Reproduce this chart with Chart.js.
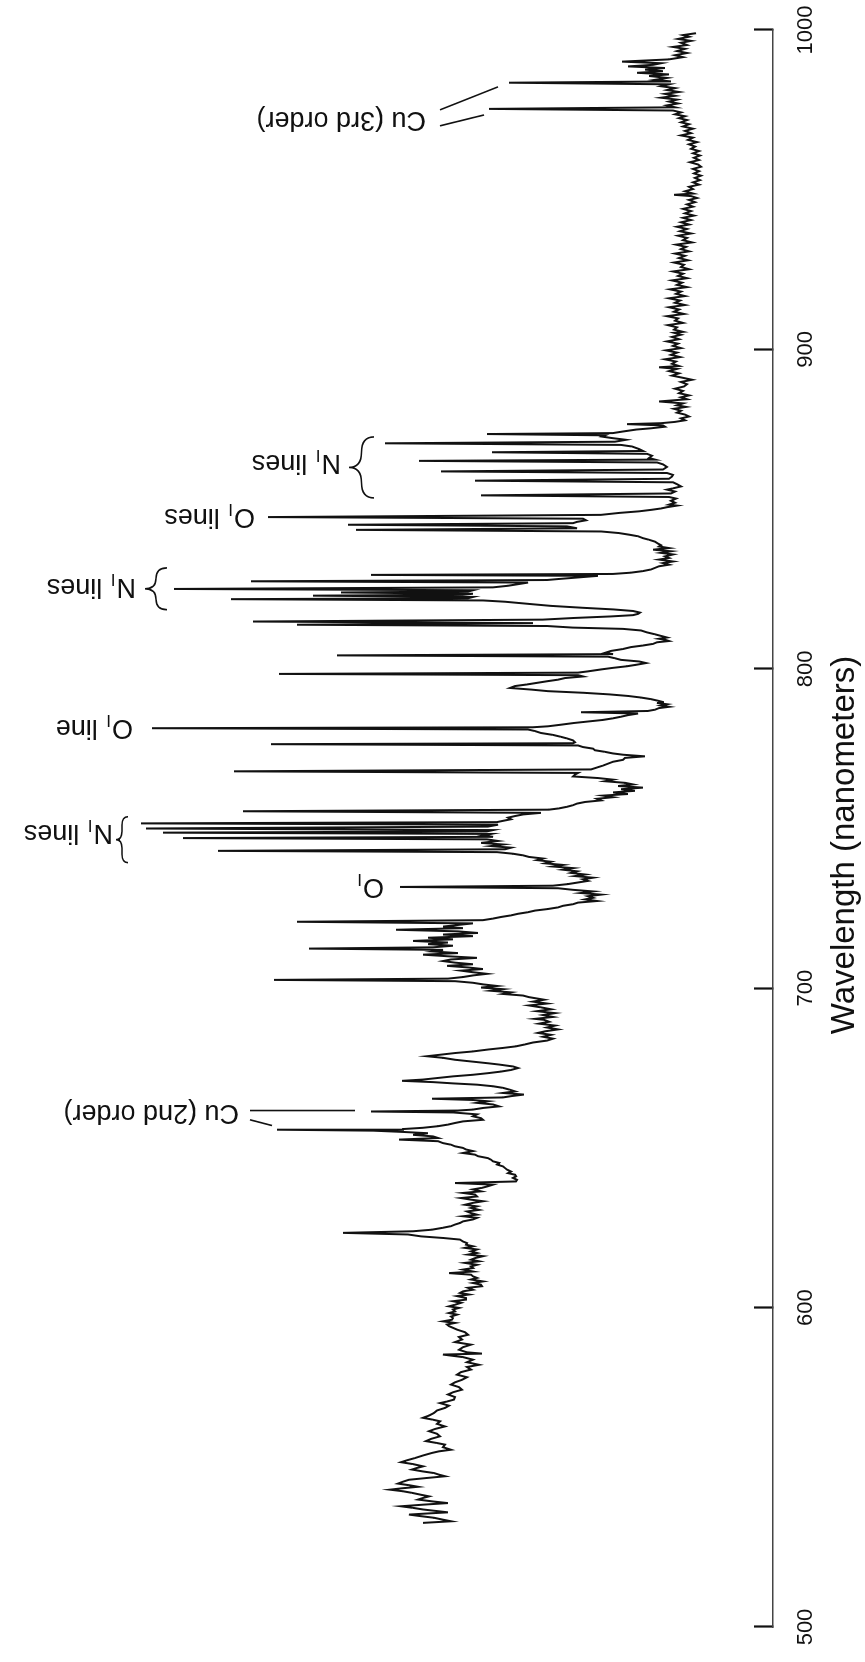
<!DOCTYPE html>
<html>
<head>
<meta charset="utf-8">
<title>Spectrum</title>
<script src="https://cdn.jsdelivr.net/npm/chart.js@4.4.1/dist/chart.umd.min.js"></script>
<style>
  html, body { margin: 0; padding: 0; background: #fff; overflow: hidden; }
  #wrap {
    position: absolute; left: 0; top: 0;
    width: 1662px; height: 865px;
    transform-origin: 0 0;
    transform: translate(0, 1662px) rotate(-90deg); /* figure is printed on its side */
  }
</style>
</head>
<body>
<div id="wrap"><canvas id="grafico" width="1662" height="865"></canvas></div>
<script>
// wavelength (nm), intensity (arbitrary) pairs from top to bottom
const seg1000a940 = [
  [999.0,77],[998.4,90],[997.9,84],[997.2,95],[996.6,82],[996.0,92],[995.3,86],[994.7,100],[994.1,88],[993.4,96],
  [992.8,86],[992.1,98],[991.5,90],[990.8,104],[990.1,151],[989.6,112],[989.1,120],[988.6,145],[988.1,108],[987.6,128],
  [987.1,110],[986.6,136],[986.1,104],[985.6,124],[985.0,106],[984.4,118],[983.9,102],[983.5,264],[983.0,104],[982.4,112],
  [981.8,98],[981.2,106],[980.6,94],[980.0,108],[979.4,98],[978.8,112],[978.2,96],[977.6,104],[977.0,95],[976.4,106],
  [975.8,98],[975.3,284],[974.8,100],[974.2,92],[973.6,98],[973.0,88],[972.4,94],[971.8,86],[971.1,92],[970.5,84],
  [969.8,90],[969.1,80],[968.4,88],[967.7,82],[967.0,92],[966.3,80],[965.6,85],[964.9,76],[964.2,84],[963.5,78],
  [962.8,82],[962.1,74],[961.4,80],[960.7,73],[960.0,79],[959.3,74],[958.6,83],[957.9,75],[957.2,72],[956.5,80],
  [955.8,74],[955.1,79],[954.4,72],[953.7,78],[953.0,73],[952.3,80],[951.6,74],[950.9,84],[950.2,80],[949.5,88],
  [948.8,80],[948.4,99],[948.0,82],[947.4,76],[946.8,84],[946.1,78],[945.4,86],[944.7,80],[944.0,90],[943.3,82],
  [942.6,88],[941.9,79],[941.2,90],[940.5,82]
];
const seg940a890 = [
  [939.8,92],[939.1,84],[938.4,96],[937.7,86],[937.0,93],[936.3,82],[935.6,95],[934.9,86],[934.2,90],[933.5,81],
  [932.8,97],[932.1,87],[931.4,92],[930.7,84],[930.0,98],[929.3,88],[928.6,94],[927.9,85],[927.2,99],[926.5,89],
  [925.8,92],[925.1,84],[924.4,100],[923.7,90],[923.0,95],[922.3,86],[921.6,101],[920.9,91],[920.2,96],[919.5,86],
  [918.8,103],[918.1,92],[917.4,97],[916.7,88],[916.0,104],[915.3,93],[914.6,98],[913.9,88],[913.2,104],[912.5,94],
  [911.8,99],[911.1,89],[910.4,106],[909.7,95],[909.0,98],[908.3,90],[907.6,105],[906.9,96],[906.2,99],[905.5,90],
  [905.2,99],[904.6,92],[903.9,101],[903.2,94],[902.5,106],[901.8,95],[901.1,100],[900.4,92],[899.7,107],[899.0,96],
  [898.3,102],[897.6,93],[896.9,108],[896.2,97],[895.5,101],[894.8,94],[894.4,114],[893.9,96],[893.2,104],[892.5,94],
  [891.8,101],[891.1,90]
];
const seg890a830 = [
  [890.5,81],[889.8,92],[889.1,86],[888.4,89],[887.7,98],[887.0,90],[886.3,94],[885.6,84],[885.0,92],[884.4,86],
  [883.7,114],[883.1,90],[882.5,96],[882.0,87],[881.4,99],[880.8,92],[880.2,96],[879.6,88],[879.0,84],[878.4,92],
  [877.8,88],[877.3,98],[876.9,112],[876.6,146],[876.2,110],[875.8,108],[875.3,122],[874.9,137],[874.3,150],[873.8,160],
  [873.5,286],[873.1,168],[872.7,171],[872.2,160],[871.7,147],[871.1,158],[870.6,388],[870.1,152],[869.6,141],[868.8,134],
  [868.2,130],[867.8,281],[867.3,126],[866.7,121],[866.0,124],[865.5,118],[865.1,354],[864.6,116],[864.0,110],[863.2,106],
  [862.4,110],[861.8,332],[861.3,106],[860.7,100],[860.2,101],[859.5,104],[858.9,298],[858.4,100],[857.8,96],[857.1,92],
  [856.5,100],[856.1,106],[855.5,98],[854.9,102],[854.3,292],[853.8,104],[853.3,97],[852.6,102],[852.0,98],[851.4,104],
  [851.1,96],[850.6,106],[850.2,112],[849.8,121],[849.3,134],[848.8,154],[848.2,172],[847.5,505],[847.0,190],[846.5,187],
  [846.0,196],[845.6,200],[845.1,425],[844.6,206],[844.0,196],[843.5,417],[843.0,172],[842.5,154],[842.0,144],[841.5,135],
  [840.9,130],[840.4,124],[839.8,118],[839.2,115],[838.7,112],[838.3,114],[837.8,104],[837.3,120],[836.8,102],[836.3,112],
  [835.8,100],[835.2,108],[834.7,104],[834.2,114],[833.6,100],[833.1,110],[832.6,104],[832.1,114],[831.6,118],[831.1,122],
  [830.6,130],[830.1,142],[829.7,160]
];
const seg830a784 = [
  [829.4,402],[829.1,175],[828.6,195],[828.1,215],[827.8,226],[827.4,522],[827.0,245],[826.5,255],[826.0,265],[825.5,280],
  [825.0,599],[824.6,300],[824.2,305],[823.9,432],[823.5,300],[823.2,310],[822.9,460],[822.5,300],[822.1,305],[821.8,542],
  [821.4,290],[821.0,268],[820.6,254],[820.2,240],[819.7,222],[819.1,190],[818.6,160],[818.1,140],[817.6,133],[817.2,135],
  [816.8,140],[816.4,162],[815.9,200],[815.4,230],[814.8,520],[814.3,240],[813.8,476],[813.4,226],[812.9,200],[812.5,150],
  [812.0,132],[811.4,126],[810.8,118],[810.3,112],[809.8,106],[809.4,114],[809.1,108],[808.7,104],[808.3,116],[807.8,120],
  [807.3,130],[806.8,142],[806.2,150],[805.6,162],[805.0,168],[804.6,160],[804.2,436],[803.8,165],[803.3,158],[802.8,152],
  [802.3,134],[801.8,127],[801.3,136],[800.8,146],[800.3,160],[799.8,172],[799.2,185],[798.8,195],[798.4,494],[798.0,195],
  [797.6,190],[797.1,208],[796.6,215],[796.1,226],[795.6,236],[795.1,246],[794.6,258],[794.0,263],[793.5,242],[793.0,225],
  [792.5,190],[792.0,164],[791.5,145],[791.0,132],[790.5,122],[790.0,115],[789.6,110],[789.3,116],[788.9,106],[788.5,112],
  [788.1,104],[787.7,114],[787.2,118],[786.8,125],[786.4,192],[786.0,135],[785.5,145],[785.0,152],[784.5,160]
];
const seg784a752 = [
  [784.0,170],[783.5,185],[783.0,200],[782.5,212],[782.0,225],[781.7,240],[781.4,621],[781.0,245],[780.5,238],[779.9,232],
  [779.3,220],[778.7,212],[778.2,206],[777.6,200],[777.0,198],[776.7,200],[776.4,502],[776.0,195],[775.5,190],[775.0,180],
  [774.5,178],[774.0,168],[773.5,160],[773.1,150],[772.6,128],[772.1,148],[771.5,150],[770.9,160],[770.3,165],[769.7,170],
  [769.1,176],[768.5,182],[767.9,539],[767.4,195],[766.9,198],[766.3,200],[765.8,175],[765.3,160],[764.8,168],[764.3,148],
  [763.8,140],[763.3,155],[762.8,130],[762.3,152],[761.8,138],[761.3,160],[760.8,145],[760.3,170],[759.8,160],[759.3,176],
  [758.8,172],[758.3,188],[757.8,196],[757.3,200],[756.8,206],[756.3,214],[755.9,224],[755.4,530],[754.9,232],[754.4,250],
  [753.9,258],[753.4,265],[752.9,262],[752.4,270],[752.0,276]
];
const seg752a697 = [
  [751.6,632],[751.2,275],[750.6,285],[750.0,627],[749.5,280],[749.1,286],[748.7,610],[748.3,282],[747.8,290],[747.4,280],
  [747.0,590],[746.6,286],[746.1,275],[745.5,292],[745.0,270],[744.5,282],[744.0,262],[743.5,268],[743.0,555],[742.6,276],
  [742.1,260],[741.6,250],[741.1,244],[740.6,230],[740.1,236],[739.6,222],[739.1,228],[738.6,210],[738.1,220],[737.6,200],
  [737.1,210],[736.6,196],[736.1,202],[735.6,188],[735.1,198],[734.6,180],[734.1,190],[733.6,185],[733.1,195],[732.6,205],
  [732.1,220],[731.7,373],[731.3,215],[730.8,200],[730.3,180],[729.8,192],[729.3,172],[728.8,185],[728.3,180],[727.8,188],
  [727.3,176],[726.8,195],[726.3,200],[725.8,210],[725.3,215],[724.8,225],[724.3,238],[723.8,245],[723.3,255],[722.8,262],
  [722.3,272],[721.8,280],[721.3,290],[720.8,476],[720.3,300],[719.8,315],[719.3,330],[718.8,310],[718.3,377],[717.8,315],
  [717.3,295],[716.8,330],[716.3,300],[715.8,345],[715.3,320],[714.8,360],[714.3,325],[713.8,345],[713.3,320],[712.8,340],
  [712.4,464],[712.0,330],[711.5,340],[711.0,315],[710.5,350],[710.0,325],[709.5,296],[709.0,322],[708.5,330],[708.0,318],
  [707.5,300],[707.0,326],[706.5,305],[706.0,290],[705.5,312],[705.0,300],[704.5,286],[704.0,300],[703.5,310],[703.0,325],
  [702.6,499],[702.2,318],[701.7,300],[701.2,290],[700.7,276],[700.2,292],[699.7,270],[699.2,282],[698.7,262],[698.2,270],
  [697.7,250]
];
const seg697a594 = [
  [697.2,244],[696.4,229],[695.8,240],[695.2,226],[694.6,244],[694.0,232],[693.4,222],[692.8,236],[692.2,218],[691.6,230],
  [691.0,220],[690.4,238],[690.1,229],[689.5,224],[688.9,234],[688.3,218],[687.7,226],[687.1,215],[686.5,228],[686.0,235],
  [685.4,222],[684.8,230],[684.2,220],[683.6,226],[683.0,240],[682.4,248],[681.8,257],[681.3,270],[680.8,285],[680.2,300],
  [679.7,318],[679.2,332],[678.7,346],[678.2,330],[677.6,318],[677.0,300],[676.5,285],[676.1,274],[675.5,260],[675.0,255],
  [674.4,262],[673.9,272],[673.4,285],[672.9,300],[672.4,320],[671.9,335],[671.4,350],[671.0,371],[670.6,340],[670.2,320],
  [669.8,296],[669.3,280],[668.8,270],[668.2,263],[667.7,258],[667.2,270],[666.7,249],[666.2,262],[665.8,270],[665.4,341],
  [665.0,300],[664.6,285],[664.1,296],[663.6,280],[663.0,274],[662.5,290],[662.0,300],[661.7,315],[661.4,402],[661.1,320],
  [660.5,296],[659.9,300],[659.3,292],[658.8,290],[658.3,310],[657.8,318],[657.3,325],[656.8,335],[656.3,350],[655.9,370],
  [655.7,496],[655.4,400],[655.0,370],[654.6,345],[654.1,360],[653.6,340],[653.1,335],[652.6,374],[652.1,335],[651.5,330],
  [651.0,322],[650.5,318],[650.0,310],[649.5,307],[649.0,300],[648.4,310],[647.9,298],[647.4,295],[646.8,285],[646.3,282],
  [645.8,280],[645.3,274],[644.8,276],[644.2,270],[643.7,268],[643.2,266],[642.6,262],[642.1,265],[641.6,258],[641.1,257],
  [640.6,260],[640.0,256],[639.5,257],[639.0,318],[638.5,280],[638.0,285],[637.5,291],[637.0,300],[636.4,292],[635.9,310],
  [635.4,298],[634.8,296],[634.3,312],[633.8,302],[633.3,290],[632.8,300],[632.2,308],[631.7,296],[631.2,302],[630.6,294],
  [630.1,306],[629.6,302],[629.1,296],[628.6,310],[628.1,296],[627.6,300],[627.0,310],[626.5,313],[626.0,318],[625.5,322],
  [625.0,330],[624.4,341],[623.9,360],[623.4,430],[622.9,365],[622.3,352],[621.8,330],[621.3,313],[620.7,310],[620.2,306],
  [619.7,307],[619.2,300],[618.7,308],[618.2,296],[617.6,302],[617.1,296],[616.6,305],[616.1,290],[615.5,298],[615.0,302],
  [614.5,294],[614.0,308],[613.4,296],[612.9,302],[612.4,300],[611.9,310],[611.3,300],[610.8,324],[610.3,302],[609.8,300],
  [609.3,296],[608.8,302],[608.2,290],[607.7,300],[607.2,292],[606.7,291],[606.2,305],[605.6,300],[605.1,310],[604.6,313],
  [604.1,304],[603.6,316],[603.0,307],[602.5,307],[602.0,320],[601.5,312],[600.9,318],[600.4,324],[599.9,314],[599.4,320],
  [598.8,318],[598.3,324],[597.8,316],[597.2,322],[596.7,320],[596.2,321],[595.7,330],[595.2,318],[594.7,326],[594.2,324]
];
const seg594a532 = [
  [593.1,316],[592.3,308],[591.5,305],[590.8,314],[590.0,311],[589.2,318],[588.4,302],[587.6,310],[586.8,314],[586.0,306],
  [585.6,291],[585.3,330],[584.5,310],[583.7,300],[582.9,306],[582.1,294],[581.4,306],[580.6,302],[579.8,312],[579.0,316],
  [578.2,306],[577.4,311],[576.6,318],[575.9,322],[575.1,314],[574.3,311],[573.5,320],[572.8,325],[572.0,318],[571.2,319],
  [570.6,326],[570.1,333],[569.3,324],[568.6,328],[567.8,336],[567.0,339],[566.2,344],[565.5,350],[564.9,340],[564.4,333],
  [563.6,336],[562.8,328],[562.0,338],[561.3,344],[560.5,336],[559.7,333],[558.9,342],[558.2,347],[557.6,336],[557.1,328],
  [556.3,330],[555.5,322],[555.0,334],[554.5,341],[553.7,350],[552.9,358],[552.2,366],[551.6,372],[551.0,360],[550.3,350],
  [549.8,356],[549.3,361],[548.7,350],[548.2,339],[547.7,334],[547.2,328],[546.6,348],[546.1,364],[545.5,370],[544.9,375],
  [544.4,364],[543.9,355],[543.4,372],[543.0,383],[542.5,370],[542.0,361],[541.4,352],[540.9,344],[540.4,350],[539.9,355],
  [539.3,340],[538.8,325],[538.3,350],[537.8,372],[537.3,360],[536.8,350],[536.3,336],[535.9,325],[535.5,348],[535.2,364],
  [534.7,352],[534.2,339],[533.6,330],[533.1,322],[532.6,350]
];

const wavelengthTicks = [500, 600, 700, 800, 900, 1000];
// the en spaces pull the centred title a little towards the short wavelengths, as printed
const axisTitle = 'Wavelength (nanometers)\u2002\u2002';

// labels: [text, subscript, rest], wavelength of the label, intensity where the text starts
const labelParts = [
  ['Cu (3rd order)', '', ''], ['N', 'I', ' lines'], ['O', 'I', ' lines'], ['N', 'I', ' lines'],
  ['O', 'I', ' line'], ['N', 'I', ' lines'], ['O', 'I', ''], ['Cu (2nd order)', '', '']
];
const labelWavelength = [972.1, 864.5, 847.6, 825.7, 781.5, 748.7, 731.8, 661.0];
const labelStart = [347, 432, 518, 637, 640, 660, 389, 534];

// braces grouping the N lines
const braceFrom = [872.6, 831.6, 753.7];
const braceTo = [853.5, 818.5, 739.3];
const braceArms = [399, 606, 645];
const braceCusp = [424, 628, 657];

// leader lines from the Cu labels to their lines
const leaderFromL = [975.0, 970.0, 661.7, 658.8];
const leaderFromI = [333, 333, 523, 523];
const leaderToL = [982.2, 973.4, 661.7, 657.0];
const leaderToI = [275, 289, 418, 501];

const spectrum = [].concat(seg1000a940, seg940a890, seg890a830, seg830a784,
  seg784a752, seg752a697, seg697a594, seg594a532).map(([x, y]) => ({x, y}));

const fonte = '"Liberation Sans", Arial, Helvetica, sans-serif';

const anotacoes = {
  id: 'anotacoes',
  afterDatasetsDraw(chart) {
    const {ctx} = chart;
    const sx = chart.scales.x;
    const sy = chart.scales.y;
    ctx.save();
    ctx.strokeStyle = '#111';
    ctx.fillStyle = '#111';
    ctx.lineWidth = 1.6;

    leaderFromL.forEach((l, i) => {
      ctx.beginPath();
      ctx.moveTo(sx.getPixelForValue(l), sy.getPixelForValue(leaderFromI[i]));
      ctx.lineTo(sx.getPixelForValue(leaderToL[i]), sy.getPixelForValue(leaderToI[i]));
      ctx.stroke();
    });

    braceFrom.forEach((l, i) => {
      const a = sx.getPixelForValue(l);
      const b = sx.getPixelForValue(braceTo[i]);
      const lo = Math.min(a, b), hi = Math.max(a, b);
      const yb = sy.getPixelForValue(braceArms[i]);
      const yc = sy.getPixelForValue(braceCusp[i]);
      const h = yb - yc;
      const ym = yb - h / 2;
      const m = (lo + hi) / 2;
      const r = Math.min(h * 0.7, (hi - lo) / 4);
      ctx.beginPath();
      ctx.moveTo(lo, yb);
      ctx.quadraticCurveTo(lo, ym, lo + r, ym);
      ctx.lineTo(m - r, ym);
      ctx.quadraticCurveTo(m, ym, m, yc);
      ctx.quadraticCurveTo(m, ym, m + r, ym);
      ctx.lineTo(hi - r, ym);
      ctx.quadraticCurveTo(hi, ym, hi, yb);
      ctx.stroke();
    });

    labelParts.forEach((parts, i) => {
      const px = sx.getPixelForValue(labelWavelength[i]);
      const py = sy.getPixelForValue(labelStart[i]);
      ctx.save();
      ctx.translate(px, py);
      ctx.rotate(-Math.PI / 2);
      ctx.textAlign = 'left';
      ctx.textBaseline = 'middle';
      let cx = 0;
      ctx.font = '27px ' + fonte;
      ctx.fillText(parts[0], cx, 0);
      cx += ctx.measureText(parts[0]).width;
      if (parts[1]) {
        ctx.font = '17px ' + fonte;
        ctx.fillText(parts[1], cx + 1, 8);
        cx += ctx.measureText(parts[1]).width + 2;
      }
      if (parts[2]) {
        ctx.font = '27px ' + fonte;
        ctx.fillText(parts[2], cx, 0);
      }
      ctx.restore();
    });
    ctx.restore();
  }
};

new Chart(document.getElementById('grafico').getContext('2d'), {
  type: 'line',
  data: {
    datasets: [{
      data: spectrum,
      borderColor: '#111',
      borderWidth: 2,
      pointRadius: 0,
      tension: 0,
      fill: false
    }]
  },
  options: {
    responsive: false,
    animation: false,
    devicePixelRatio: 1,
    layout: { padding: { left: 35, right: 30, top: 0, bottom: 0 } },
    plugins: { legend: { display: false }, tooltip: { enabled: false } },
    scales: {
      x: {
        type: 'linear',
        position: 'bottom',
        min: 500,
        max: 1000,
        afterBuildTicks: s => { s.ticks = wavelengthTicks.map(v => ({ value: v })); },
        afterFit: s => {
          s.height = 92;
          s.paddingLeft = 0; s.paddingRight = 0; s.paddingTop = 0; s.paddingBottom = 0;
        },
        border: { display: true, color: '#444', width: 1.4 },
        grid: {
          display: true,
          drawOnChartArea: false,
          drawTicks: true,
          tickLength: -19,
          tickColor: '#111',
          tickWidth: 2.2
        },
        ticks: {
          padding: 39,
          maxRotation: 0,
          color: '#111',
          font: { family: fonte, size: 22 },
          callback: v => String(v)
        },
        title: {
          display: true,
          text: axisTitle,
          color: '#111',
          font: { family: fonte, size: 33 },
          padding: { top: 0, bottom: 0 }
        }
      },
      y: {
        display: false,
        min: 0,
        max: 773
      }
    }
  },
  plugins: [anotacoes]
});
</script>
</body>
</html>
